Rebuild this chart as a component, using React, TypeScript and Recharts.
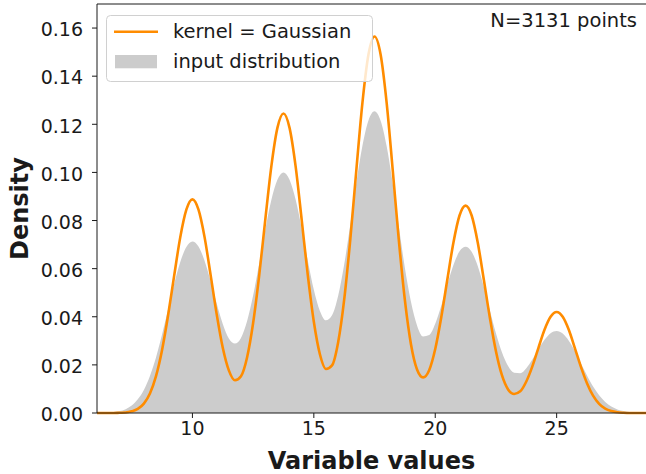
import { ComposedChart, Area, Line, XAxis, YAxis, Legend, ReferenceLine, Customized } from "recharts";

// x grid of the density estimate (step 0.25)
const xValues = [
  6, 6.25, 6.5, 6.75, 7, 7.25, 7.5, 7.75,
  8, 8.25, 8.5, 8.75, 9, 9.25, 9.5, 9.75,
  10, 10.25, 10.5, 10.75, 11, 11.25, 11.5, 11.75,
  12, 12.25, 12.5, 12.75, 13, 13.25, 13.5, 13.75,
  14, 14.25, 14.5, 14.75, 15, 15.25, 15.5, 15.75,
  16, 16.25, 16.5, 16.75, 17, 17.25, 17.5, 17.75,
  18, 18.25, 18.5, 18.75, 19, 19.25, 19.5, 19.75,
  20, 20.25, 20.5, 20.75, 21, 21.25, 21.5, 21.75,
  22, 22.25, 22.5, 22.75, 23, 23.25, 23.5, 23.75,
  24, 24.25, 24.5, 24.75, 25, 25.25, 25.5, 25.75,
  26, 26.25, 26.5, 26.75, 27, 27.25, 27.5, 27.75,
  28, 28.25, 28.5, 28.75,
];

// kernel = Gaussian (orange line)
const kernelDensity = [
  0.0, 0.0, 0.0, 0.0, 0.0001, 0.0002, 0.0007, 0.0017,
  0.0039, 0.0081, 0.0153, 0.0262, 0.0407, 0.0572, 0.0731, 0.0845,
  0.0888, 0.0845, 0.0731, 0.0573, 0.041, 0.0271, 0.0177, 0.0136,
  0.0153, 0.0231, 0.0374, 0.0572, 0.0803, 0.1025, 0.1185, 0.1245,
  0.1185, 0.1025, 0.0803, 0.0574, 0.0379, 0.0244, 0.0183, 0.0198,
  0.0293, 0.0471, 0.072, 0.1009, 0.1288, 0.149, 0.1565, 0.149,
  0.1288, 0.1009, 0.0719, 0.0469, 0.0286, 0.0181, 0.0148, 0.0178,
  0.0266, 0.0399, 0.0556, 0.0709, 0.0821, 0.0862, 0.0821, 0.0709,
  0.0555, 0.0396, 0.0257, 0.0156, 0.0098, 0.0079, 0.009, 0.0131,
  0.0194, 0.0271, 0.0346, 0.04, 0.042, 0.04, 0.0346, 0.027,
  0.0192, 0.0124, 0.0072, 0.0038, 0.0018, 0.0008, 0.0003, 0.0001,
  0.0, 0.0, 0.0, 0.0,
];

// input distribution (grey fill)
const inputDensity = [
  0.0, 0.0001, 0.0002, 0.0004, 0.0008, 0.0016, 0.0031, 0.0057,
  0.0096, 0.0154, 0.0231, 0.0326, 0.0432, 0.0537, 0.0628, 0.069,
  0.0713, 0.0692, 0.0633, 0.0548, 0.0455, 0.037, 0.031, 0.0289,
  0.0312, 0.0381, 0.0488, 0.0621, 0.0761, 0.0885, 0.0969, 0.1,
  0.097, 0.0887, 0.0767, 0.0634, 0.0512, 0.0424, 0.0385, 0.0406,
  0.0486, 0.0617, 0.0782, 0.0956, 0.111, 0.1216, 0.1254, 0.1215,
  0.1109, 0.0953, 0.0775, 0.0603, 0.0462, 0.0364, 0.0318, 0.0324,
  0.0371, 0.0447, 0.0535, 0.0615, 0.0672, 0.0691, 0.067, 0.0611,
  0.0525, 0.0426, 0.0331, 0.0251, 0.0195, 0.0167, 0.0165, 0.0186,
  0.0222, 0.0265, 0.0304, 0.0332, 0.0341, 0.033, 0.03, 0.0257,
  0.0206, 0.0156, 0.011, 0.0074, 0.0046, 0.0027, 0.0015, 0.0008,
  0.0004, 0.0002, 0.0001, 0.0,
];

const xTicks = [10, 15, 20, 25];
const yTicks = [0, 0.02, 0.04, 0.06, 0.08, 0.1, 0.12, 0.14, 0.16];

const ORANGE = "#ff8c00";
const GREY = "#cccccc";
const INK = "#1a1a1a";
const FONT = "DejaVu Sans";

const data = xValues.map((x, i) => ({
  x,
  kde: kernelDensity[i],
  input: inputDensity[i],
}));

const renderLegend = () => (
  <svg width={268} height={68} style={{ display: "block" }}>
    <rect x={0.5} y={0.5} width={266} height={66} rx={4} fill="#ffffff" fillOpacity={0.8} stroke="#d0d0d0" />
    <line x1={8} x2={52} y1={16.7} y2={16.7} stroke={ORANGE} strokeWidth={2.6} />
    <text x={67} y={23.3} fontFamily={FONT} fontSize={19.5} fill={INK}>
      kernel = Gaussian
    </text>
    <rect x={9} y={40} width={42} height={13.3} fill={GREY} />
    <text x={67} y={53.3} fontFamily={FONT} fontSize={19.5} fill={INK}>
      input distribution
    </text>
  </svg>
);

const Annotations = () => (
  <g fontFamily={FONT} fill={INK}>
    <text x={637} y={26.5} textAnchor="end" fontSize={19.5}>
      N=3131 points
    </text>
    <text transform="translate(28,208.5) rotate(-90)" textAnchor="middle" fontSize={24} fontWeight="bold">
      Density
    </text>
  </g>
);

export default function App() {
  return (
    <div style={{ position: "absolute", left: 0, top: 0 }}>
      <ComposedChart width={646} height={474} data={data} margin={{ top: 4, right: 0, bottom: 0, left: 0 }}>
        <XAxis
          dataKey="x"
          type="number"
          domain={[6.07, 28.68]}
          allowDataOverflow
          ticks={xTicks}
          height={61}
          tickSize={5}
          tickMargin={4}
          stroke={INK}
          tick={{ fill: INK, fontSize: 19, fontFamily: FONT }}
          label={{
            value: "Variable values",
            position: "insideBottom",
            offset: 5,
            style: { fill: INK, fontSize: 24, fontWeight: "bold", fontFamily: FONT },
          }}
        />
        <YAxis
          type="number"
          domain={[0, 0.17]}
          ticks={yTicks}
          width={97}
          tickSize={5}
          tickMargin={9}
          stroke={INK}
          tickFormatter={(v: number) => v.toFixed(2)}
          tick={{ fill: INK, fontSize: 19, fontFamily: FONT, dy: 1.5 }}
        />
        <Area
          dataKey="input"
          name="input distribution"
          type="monotone"
          fill={GREY}
          fillOpacity={1}
          stroke="none"
          isAnimationActive={false}
        />
        <Line
          dataKey="kde"
          name="kernel = Gaussian"
          type="monotone"
          stroke={ORANGE}
          strokeWidth={2.6}
          dot={false}
          isAnimationActive={false}
        />
        <ReferenceLine y={0.17} stroke={INK} />
        <Customized component={Annotations} />
        <Legend
          layout="vertical"
          align="center"
          verticalAlign="middle"
          content={renderLegend}
          wrapperStyle={{ left: 106, top: 15, width: 268, height: 68 }}
        />
      </ComposedChart>
    </div>
  );
}
